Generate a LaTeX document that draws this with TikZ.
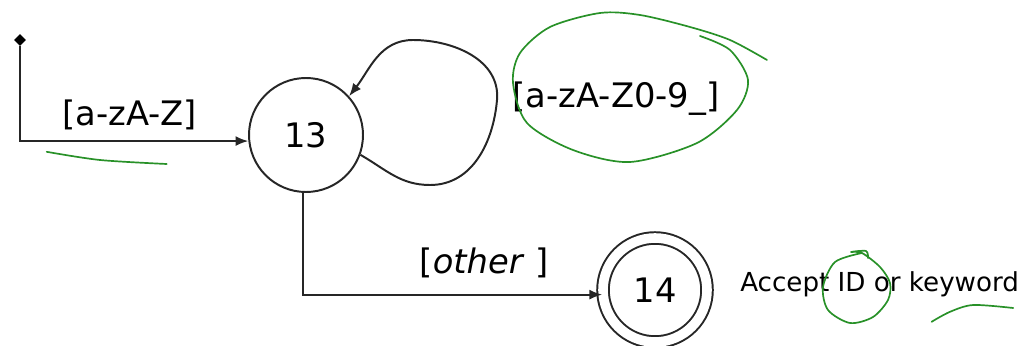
\documentclass[tikz,border=0pt]{standalone}
\usepackage{fontspec}
\setmainfont{DejaVu Sans}
\usetikzlibrary{arrows.meta, shapes.geometric}
\definecolor{penGreen}{RGB}{40,145,40}

\begin{document}
\begin{tikzpicture}[
    state/.style={draw=black!85, line width=1.4pt, circle, inner sep=0pt, minimum size=2.85cm, font=\fontsize{24}{28}\selectfont},
    accepting/.style={state, minimum size=2.6cm, double, double distance=0.24cm},
    edge/.style={draw=black!85, line width=1.4pt, -{Latex[length=0.32cm, width=0.25cm]}},
    lbl/.style={inner sep=0pt, font=\fontsize{24}{28}\selectfont},
    pen/.style={penGreen, line width=1.2pt, line cap=round, line join=round}]
    \useasboundingbox (0,0) rectangle (25.7,8.625);
    % states
    \node[diamond, fill=black, inner sep=0pt, minimum size=0.3cm] (start) at (0.5,7.625) {};
    \node[state] (n13) at (7.65,5.25) {13};
    \node[accepting] (n14) at (16.375,1.375) {14};
    % transitions
    \draw[edge] (start) |- (n13.186);
    \draw[edge] (n13.267) |- (n14.185);
    \coordinate (loopB) at (10.75,4.0);
    \coordinate (loopR) at (12.425,6.125);
    \coordinate (loopT) at (10.325,7.625);
    \draw[edge] (n13.-20) to[out=-30, in=180] (loopB) to[out=0, in=-95] (loopR)
        to[out=85, in=0] (loopT) to[out=180, in=52] (n13.42);
    % labels
    \node[lbl] (lblAZ) at (3.24,5.75) {[a-zA-Z]};
    \node[lbl] (lblAZ09) at (15.4,6.16) {[a-zA-Z0-9\_]};
    \node[lbl] (lblOther) at (12.1,2.05) {[\textit{other\/} ]};
    \node[inner sep=0pt, anchor=base west, font=\fontsize{18.6}{22}\selectfont] (note) at (18.5,1.33) {Accept ID or keyword};
    % green pen marks
    \draw[pen] plot[smooth] coordinates {(1.167,4.83) (2.5,4.625) (4.167,4.525)};
    \draw[pen] plot[smooth] coordinates {(17.5,7.725) (18.25,7.375) (18.7,6.625) (18.425,5.875)
        (17.425,5.05) (15.75,4.575) (14.325,4.875) (13.175,5.55) (12.825,6.55) (13.0,7.3)
        (13.75,7.95) (15.0,8.3) (16.0,8.25) (17.25,7.95) (18.25,7.625) (19.175,7.125)};
    \draw[pen] plot[smooth] coordinates {(21.55,2.3) (20.875,2.075) (20.575,1.45) (20.7,0.875)
        (21.25,0.55) (21.825,0.7) (22.2,1.125) (22.25,1.55) (22.0,1.95) (21.55,2.3)
        (21.275,2.325) (21.65,2.35) (21.7,2.175)};
    \draw[pen] plot[smooth] coordinates {(23.29,0.58) (23.75,0.83) (24.33,1.0) (25.33,0.925)};
\end{tikzpicture}
\end{document}
